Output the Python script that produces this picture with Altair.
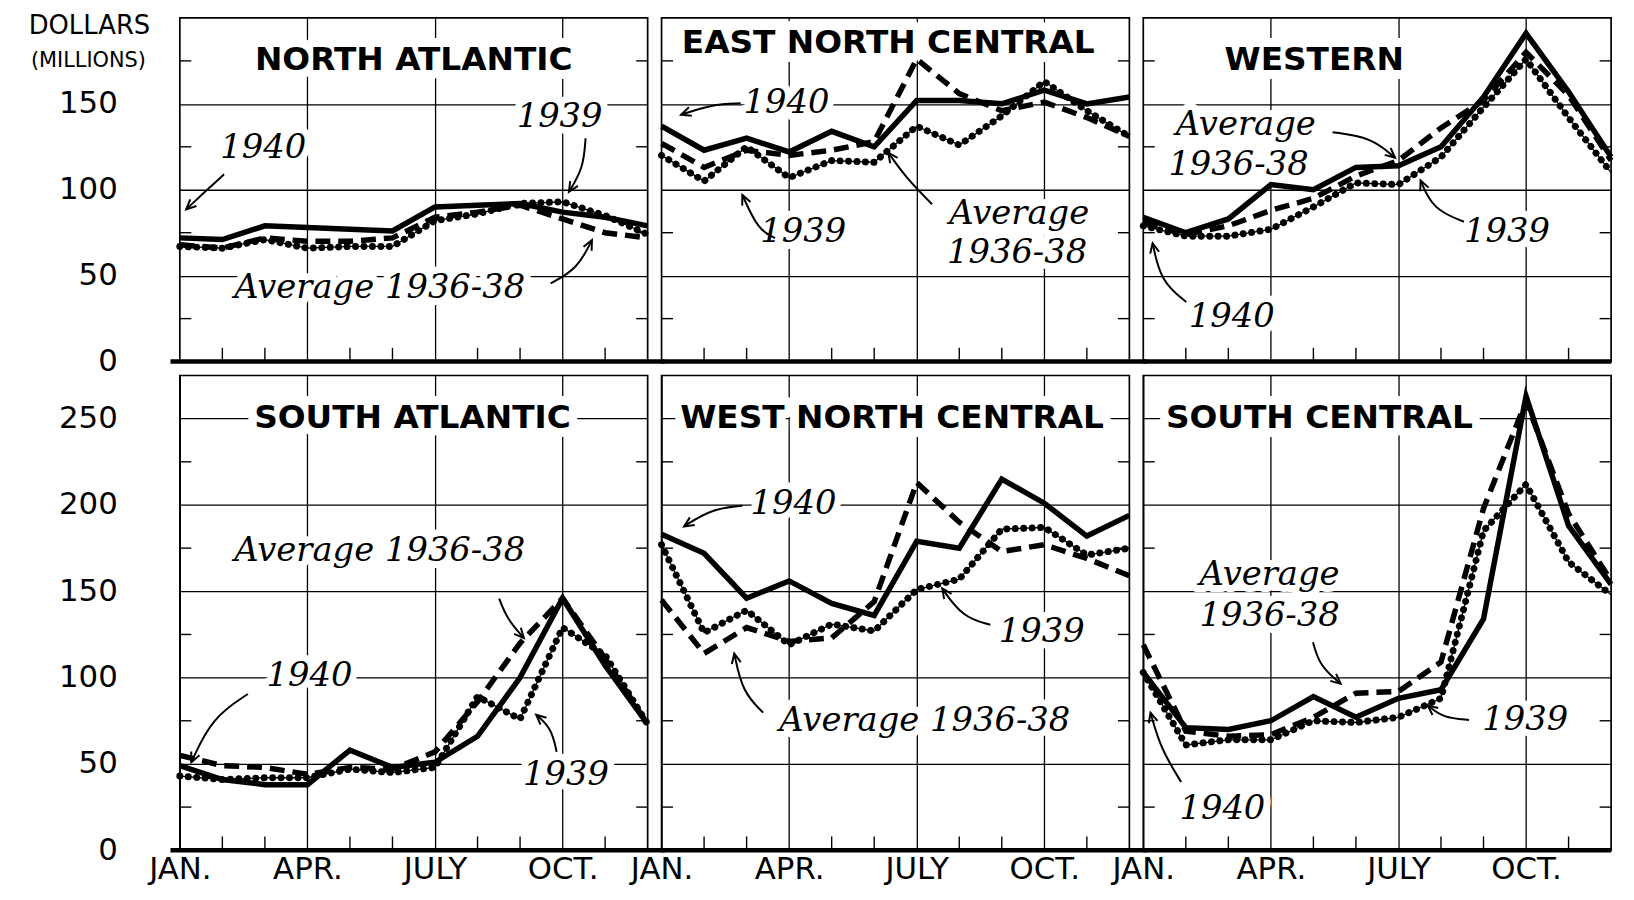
import math
import altair as alt
import pandas as pd

# ---------------- data ----------------
MONTHS = list(range(12))            # 0 = January ... 11 = December
TICK_TEXT = {0: "JAN.", 3: "APR.", 6: "JULY", 9: "OCT."}

REGIONS = ["NORTH ATLANTIC", "EAST NORTH CENTRAL", "WESTERN",
           "SOUTH ATLANTIC", "WEST NORTH CENTRAL", "SOUTH CENTRAL"]

NA_1940 = [72, 71, 79, 78, 77, 76, 90, 91, 92, 87, 84, 79]
NA_1939 = [67, 66, 71, 66, 67, 67, 82, 86, 92, 93, 85, 74]
NA_AVG = [68, 66, 72, 70, 70, 72, 84, 87, 91, 83, 75, 72]

ENC_1940 = [137, 123, 130, 122, 134, 125, 152, 152, 150, 158, 150, 154]
ENC_1939 = [120, 105, 125, 107, 117, 116, 137, 126, 143, 163, 146, 131]
ENC_AVG = [127, 113, 123, 120, 123, 128, 176, 156, 146, 151, 142, 131]

W_1940 = [84, 75, 83, 103, 100, 113, 114, 125, 154, 191, 157, 119]
W_1939 = [79, 73, 73, 77, 90, 104, 103, 119, 148, 176, 142, 110]
W_AVG = [81, 74, 79, 88, 95, 108, 117, 136, 152, 180, 155, 117]

SA_1940 = [49, 41, 38, 38, 58, 48, 51, 66, 100, 146, 107, 73]
SA_1939 = [43, 41, 42, 42, 47, 45, 48, 89, 76, 129, 113, 73]
SA_AVG = [55, 49, 48, 44, 48, 47, 57, 86, 120, 146, 111, 73]

WNC_1940 = [183, 172, 146, 156, 143, 136, 179, 175, 215, 201, 182, 194]
WNC_1939 = [177, 126, 139, 119, 131, 127, 151, 157, 186, 187, 171, 175]
WNC_AVG = [145, 114, 129, 121, 123, 144, 213, 190, 173, 177, 169, 159]

SC_1940 = [103, 71, 70, 75, 89, 77, 88, 93, 134, 263, 188, 154]
SC_1939 = [103, 61, 64, 64, 75, 74, 77, 88, 185, 212, 167, 148]
SC_AVG = [119, 69, 66, 67, 77, 91, 92, 109, 198, 260, 195, 156]

S1940 = [NA_1940, ENC_1940, W_1940, SA_1940, WNC_1940, SC_1940]
S1939 = [NA_1939, ENC_1939, W_1939, SA_1939, WNC_1939, SC_1939]
SAVG = [NA_AVG, ENC_AVG, W_AVG, SA_AVG, WNC_AVG, SC_AVG]

# annotation anchors (data units: month, dollars)
TITLE_POS = [(5.5, 175.5), (5.33, 185.6), (4.02, 175.4),
             (5.47, 250.6), (5.42, 250.6), (4.14, 250.6)]

LABELS = [
    [("1940", 1.96, 124.5), ("1939", 8.93, 142.5), ("Average 1936-38", 4.7, 43)],
    [("1940", 2.94, 150.3), ("1939", 3.33, 75.4), ("Average", 8.41, 85.6), ("1936-38", 8.36, 62.9)],
    [("Average", 2.41, 137.7), ("1936-38", 2.24, 114.4), ("1939", 8.55, 75.4), ("1940", 2.08, 25.7)],
    [("Average 1936-38", 4.7, 173.3), ("1940", 3.05, 100.7), ("1939", 9.08, 43.8)],
    [("1940", 3.1, 200.8), ("1939", 8.94, 126.5), ("Average 1936-38", 6.19, 74.9)],
    [("Average", 2.97, 159.5), ("1936-38", 2.97, 135.5), ("1939", 8.98, 75.5), ("1940", 1.86, 24)],
]

# arrows: start, bend, tip
ARROWS = [
    [(1.04, 109, 0.6, 99, 0.15, 88.6), (9.54, 130, 9.49, 112.6, 9.15, 98.8), (8.72, 45.5, 9.35, 54, 9.69, 70.7)],
    [(1.86, 150.3, 1.18, 149.7, 0.46, 143.7), (2.67, 71.9, 2.27, 76.6, 1.9, 97), (6.36, 91.6, 5.76, 106.6, 5.33, 121.6)],
    [(4.45, 133.5, 5.36, 130.5, 5.92, 118.6), (7.54, 81.4, 6.81, 88.6, 6.52, 105.4), (1.01, 34.7, 0.41, 46.7, 0.22, 68.9)],
    [(7.51, 145.7, 7.7, 133.7, 8.09, 122.9), (1.6, 90.5, 0.75, 76.7, 0.27, 51), (8.86, 57, 8.74, 70.7, 8.38, 78.5)],
    [(1.9, 199.6, 1.18, 197.8, 0.53, 187.6), (7.73, 130.6, 7.08, 134.9, 6.6, 151.6), (2.39, 79.7, 1.9, 91.7, 1.71, 113.9)],
    [(3.99, 120.5, 4.15, 106.7, 4.64, 96.5), (7.66, 75.5, 7.05, 76.7, 6.69, 83.9), (0.89, 39.6, 0.41, 58.8, 0.17, 79.7)],
]

# ---------------- layout / style ----------------
W = 471
HEIGHTS = [346, 478]
YMAX = [200, 275]
SANS = "DejaVu Sans"
SERIF = "DejaVu Serif"
HEAD = "M-0.7,1.5L0,0L0.7,1.5"

label_expr = " : ".join(f"datum.value == {k} ? '{v}'" for k, v in TICK_TEXT.items()) + " : ''"


def make_panel(i):
    row, col = divmod(i, 3)
    H, ymax = HEIGHTS[row], YMAX[row]
    xaxis = alt.Axis(values=[0, 3, 6, 9] if row == 1 else [3, 6, 9], grid=True,
                     gridColor="black", gridWidth=1.3, gridOpacity=1, ticks=False,
                     tickSize=0, domain=False, labels=(row == 1), labelExpr=label_expr,
                     labelFont=SANS, labelFontSize=31, labelColor="black",
                     labelPadding=4, labelFlush=False, labelOverlap=False, title=None)
    yaxis = alt.Axis(values=list(range(0, ymax, 50)), grid=True, gridColor="black",
                     gridWidth=1.3, gridOpacity=1, ticks=False, tickSize=0, domain=False,
                     labels=(col == 0), labelFont=SANS, labelFontSize=31,
                     labelColor="black", labelPadding=63, title=None)
    x = alt.X("month:Q", scale=alt.Scale(domain=[0, 11], nice=False, zero=False), axis=xaxis)
    y = alt.Y("value:Q", scale=alt.Scale(domain=[0, ymax], nice=False), axis=yaxis)

    # minor ticks
    tk = []
    for v in range(25, ymax, 50):
        tk.append(dict(month=0, month2=0.27, value=v, value2=v))
        tk.append(dict(month=10.73, month2=11, value=v, value2=v))
    for m in MONTHS[1:11]:
        if m % 3:
            tk.append(dict(month=m, month2=m, value=0, value2=8))
    ticks = alt.Chart(pd.DataFrame(tk)).mark_rule(color="black", strokeWidth=1.4).encode(
        x=x, x2="month2:Q", y=y, y2="value2:Q")

    x_start = -0.22 if col == 0 else 0
    x_end = 11.4 if col < 2 else 11.0
    zero = alt.Chart(pd.DataFrame([dict(month=x_start, month2=x_end, value=0)])).mark_rule(
        color="black", strokeWidth=4.5).encode(x=x, x2="month2:Q", y=y)

    lab = pd.DataFrame([dict(label=t, month=a, value=b) for t, a, b in LABELS[i]])
    ttl = pd.DataFrame([dict(label=REGIONS[i], month=TITLE_POS[i][0], value=TITLE_POS[i][1])])

    lab_halo = alt.Chart(lab).mark_text(font=SERIF, fontStyle="italic", fontSize=34,
                                        color="white", stroke="white", strokeWidth=14,
                                        strokeJoin="round").encode(x=x, y=y, text="label:N")
    ttl_halo = alt.Chart(ttl).mark_text(font=SANS, fontWeight="bold", fontSize=33,
                                        color="white", stroke="white", strokeWidth=18,
                                        strokeJoin="round").encode(x=x, y=y, text="label:N")
    lab_txt = alt.Chart(lab).mark_text(font=SERIF, fontStyle="italic", fontSize=34,
                                       color="black").encode(x=x, y=y, text="label:N")
    ttl_txt = alt.Chart(ttl).mark_text(font=SANS, fontWeight="bold", fontSize=33,
                                       color="black").encode(x=x, y=y, text="label:N")

    d40 = pd.DataFrame(dict(month=MONTHS, value=S1940[i]))
    d39 = pd.DataFrame(dict(month=MONTHS, value=S1939[i]))
    dav = pd.DataFrame(dict(month=MONTHS, value=SAVG[i]))
    l40 = alt.Chart(d40).mark_line(color="black", strokeWidth=5.5).encode(x=x, y=y)
    lav = alt.Chart(dav).mark_line(color="black", strokeWidth=5.5, strokeDash=[15, 8]).encode(x=x, y=y)
    l39a = alt.Chart(d39).mark_line(color="black", strokeWidth=1.3).encode(x=x, y=y)
    l39b = alt.Chart(d39).mark_line(color="black", strokeWidth=7, strokeDash=[0.01, 8.5],
                                    strokeCap="round").encode(x=x, y=y)

    arr, heads = [], []
    sx, sy = W / 11, H / ymax
    for k, (a0, b0, ac, bc, a1, b1) in enumerate(ARROWS[i]):
        for o, (a, b) in enumerate([(a0, b0), (ac, bc), (a1, b1)]):
            arr.append(dict(id=k, ord=o, month=a, value=b))
        dx = (a1 - ac) * sx
        dy = -(b1 - bc) * sy
        ang = math.degrees(math.atan2(dx, -dy)) % 360
        heads.append(dict(month=a1, value=b1, ang=ang))
    arrows = alt.Chart(pd.DataFrame(arr)).mark_line(color="black", strokeWidth=2,
                                                    interpolate="basis").encode(
        x=x, y=y, detail="id:N", order="ord:Q")
    tips = alt.Chart(pd.DataFrame(heads)).mark_point(shape=HEAD, filled=False, size=170,
                                                     color="black", strokeWidth=2,
                                                     opacity=1).encode(
        x=x, y=y, angle=alt.Angle("ang:Q", scale=None))

    layers = [ticks, lab_halo, ttl_halo, lav, l40, l39a, l39b, zero,
              lab_txt, ttl_txt, arrows, tips]

    if i == 0:
        one = pd.DataFrame([dict(label="DOLLARS")])
        two = pd.DataFrame([dict(label="(MILLIONS)")])
        layers.append(alt.Chart(one).mark_text(font=SANS, fontSize=26, color="black").encode(
            x=alt.value(-91), y=alt.value(8), text="label:N"))
        layers.append(alt.Chart(two).mark_text(font=SANS, fontSize=21, color="black").encode(
            x=alt.value(-92), y=alt.value(43), text="label:N"))

    return alt.layer(*layers).properties(width=W, height=H)


panels = [make_panel(i) for i in range(6)]
chart = alt.concat(*panels, columns=3, spacing=14, bounds="flush").properties(
    padding={"left": 19, "top": 1, "right": 0, "bottom": 0},
    background="white",
).configure_view(stroke="black", strokeWidth=1.7)

chart.save("out.html", embed_options={"renderer": "svg", "actions": False})
